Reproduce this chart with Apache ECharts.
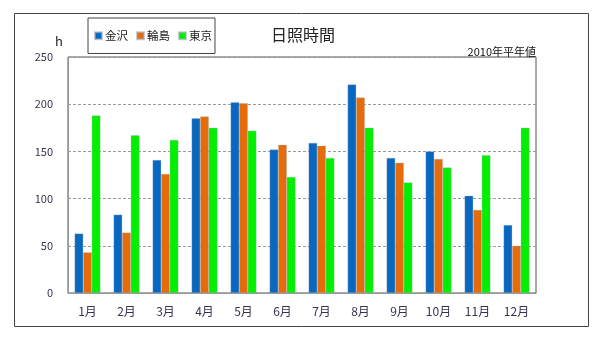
<!DOCTYPE html>
<html><head><meta charset="utf-8">
<script src="https://cdn.jsdelivr.net/npm/echarts@6/dist/echarts.min.js"></script>
<style>html,body{margin:0;padding:0;background:#fff}#c{width:603px;height:343px}</style>
</head><body><div id="c"></div>
<script>
const categories = ['1月','2月','3月','4月','5月','6月','7月','8月','9月','10月','11月','12月'];
const kanazawa = [63, 83, 141, 185, 202, 152, 159, 221, 143, 150, 103, 72];
const wajima   = [43, 64, 126, 187, 201, 157, 156, 207, 138, 142, 88, 50];
const tokyo    = [188, 167, 162, 175, 172, 123, 143, 175, 117, 133, 146, 175];
const seriesNames = ['金沢','輪島','東京'];
const yTicks = { min: 0, max: 250, interval: 50 };

const font = '"Noto Sans CJK JP", sans-serif';
const chart = echarts.init(document.getElementById('c'), null, {renderer:'canvas'});
const colors = ['#0868c0', '#e46c0a', '#00f000'];
chart.setOption({
  animation: false,
  textStyle: { fontFamily: font },
  color: colors,
  title: [
    { text: '日照時間', left: 298, top: 22, textAlign: 'center',
      textStyle: { fontSize: 16, fontWeight: 'normal', color: '#222', fontFamily: font } },
    { text: '2010年平年値', right: 62, top: 41,
      textStyle: { fontSize: 11, fontWeight: 'normal', color: '#111', fontFamily: font } }
  ],
  legend: {
    left: 88, top: 18, orient: 'horizontal',
    itemWidth: 7, itemHeight: 7, itemGap: 8,
    padding: [12, 3, 12, 6],
    borderColor: '#444', borderWidth: 1,
    icon: 'rect',
    textStyle: { fontSize: 11.5, color: '#222', padding: [0,0,0,-2], fontFamily: font },
    data: seriesNames
  },
  graphic: [
    { type: 'rect', shape: { x: 14.5, y: 13.5, width: 574, height: 313 },
      style: { fill: 'none', stroke: '#444', lineWidth: 1 }, silent: true },
    { type: 'text', left: 55, top: 35, style: { text: 'h', fontSize: 13, fill: '#222', fontFamily: font } }
  ],
  grid: { left: 68, right: 67, top: 57, bottom: 50, show: true, borderColor: '#555', borderWidth: 1, backgroundColor: '#fff' },
  xAxis: {
    type: 'category', data: categories,
    axisLine: { lineStyle: { color: '#999' } },
    axisTick: { show: false },
    axisLabel: { fontSize: 12, color: '#3a3050', margin: 12, fontFamily: font }
  },
  yAxis: {
    type: 'value', min: yTicks.min, max: yTicks.max, interval: yTicks.interval,
    axisLine: { show: true, lineStyle: { color: '#999' } },
    axisTick: { show: false },
    axisLabel: { fontSize: 11, color: '#3a3050', margin: 15, fontFamily: font },
    splitLine: { lineStyle: { color: '#999', type: [3, 2] } }
  },
  series: [
    { name: seriesNames[0], type: 'bar', data: kanazawa, barWidth: 8.6, barGap: '0%',
      itemStyle: { borderColor: 'rgba(160,170,190,0.6)', borderWidth: 0.5 } },
    { name: seriesNames[1], type: 'bar', data: wajima, barWidth: 8.6, barGap: '0%',
      itemStyle: { borderColor: 'rgba(160,170,190,0.6)', borderWidth: 0.5 } },
    { name: seriesNames[2], type: 'bar', data: tokyo, barWidth: 8.6, barGap: '0%',
      itemStyle: { borderColor: 'rgba(160,170,190,0.6)', borderWidth: 0.5 } }
  ]
});
</script></body></html>
